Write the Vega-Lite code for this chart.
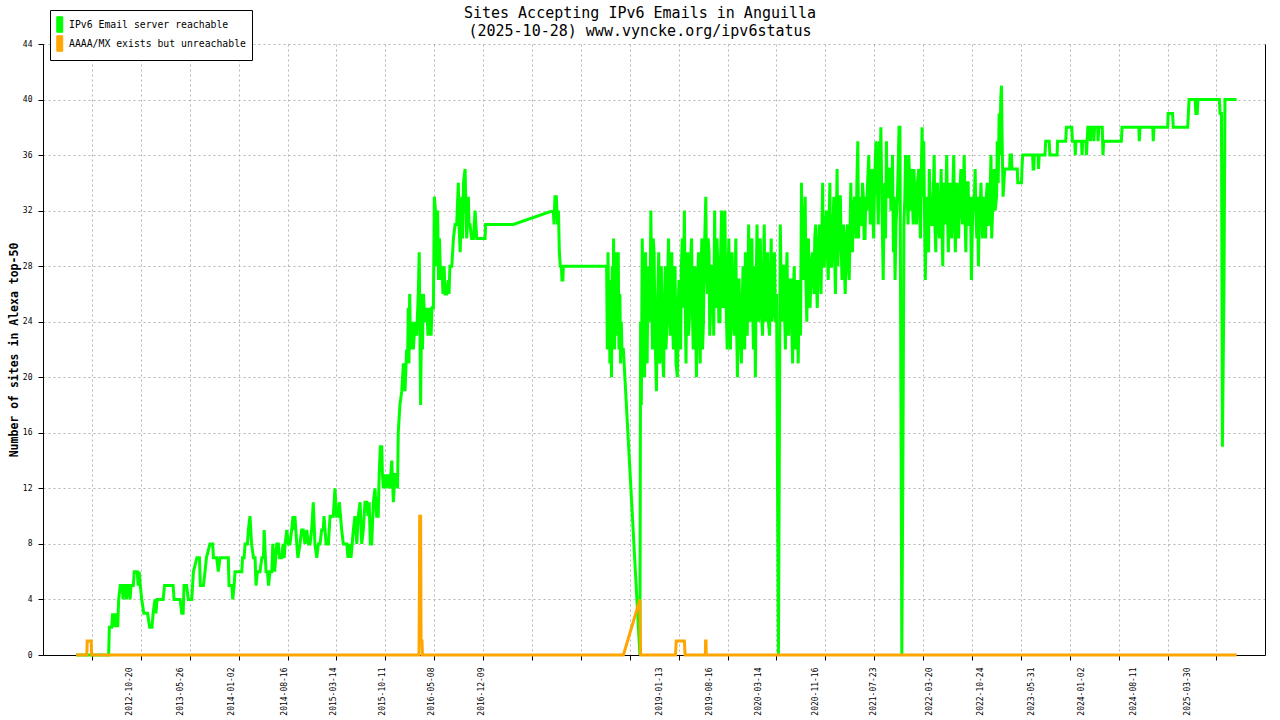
{
"$schema": "https://vega.github.io/schema/vega-lite/v6.json",
"width": 1222,
"height": 611,
"autosize": {"type": "none"},
"padding": {"left": 43, "top": 44, "right": 15, "bottom": 65},
"background": "white",
"config": {
  "font": "DejaVu Sans Mono",
  "view": {"stroke": null},
  "axis": {"labelFont": "DejaVu Sans Mono", "titleFont": "DejaVu Sans Mono", "labelColor": "black", "titleColor": "black", "domainColor": "black", "tickColor": "black", "domainWidth": 1, "tickWidth": 1},
  "legend": {"labelFont": "DejaVu Sans Mono"}
},
"title": {
  "text": ["Sites Accepting IPv6 Emails in Anguilla", "(2025-10-28) www.vyncke.org/ipv6status"],
  "font": "DejaVu Sans Mono", "fontSize": 15, "fontWeight": "normal", "lineHeight": 18,
  "color": "black", "anchor": "middle", "frame": "group", "dx": -14, "offset": -29
},
"datasets": {
"reachable": [
{"date":"2012-03-06","sites":0},{"date":"2012-07-23","sites":0},{"date":"2012-07-26","sites":2},{"date":"2012-08-05","sites":2},{"date":"2012-08-09","sites":3},{"date":"2012-08-13","sites":2},{"date":"2012-08-18","sites":3},{"date":"2012-08-22","sites":2},{"date":"2012-08-27","sites":3},{"date":"2012-08-31","sites":2},{"date":"2012-09-04","sites":4},{"date":"2012-09-11","sites":5},{"date":"2012-09-19","sites":5},{"date":"2012-09-23","sites":4},{"date":"2012-09-27","sites":5},{"date":"2012-10-04","sites":5},{"date":"2012-10-08","sites":4},{"date":"2012-10-11","sites":5},{"date":"2012-10-19","sites":5},{"date":"2012-10-23","sites":4},{"date":"2012-10-27","sites":5},{"date":"2012-11-06","sites":5},{"date":"2012-11-10","sites":6},{"date":"2012-11-23","sites":6},{"date":"2012-11-27","sites":5},{"date":"2012-12-01","sites":6},{"date":"2012-12-06","sites":5},{"date":"2012-12-12","sites":4},{"date":"2012-12-21","sites":3},
{"date":"2013-01-06","sites":3},{"date":"2013-01-15","sites":2},{"date":"2013-01-25","sites":2},{"date":"2013-01-30","sites":3},{"date":"2013-02-07","sites":4},{"date":"2013-02-11","sites":3},{"date":"2013-02-16","sites":4},{"date":"2013-03-14","sites":4},{"date":"2013-03-20","sites":5},{"date":"2013-04-26","sites":5},{"date":"2013-04-30","sites":4},{"date":"2013-05-26","sites":4},{"date":"2013-06-02","sites":3},{"date":"2013-06-08","sites":3},{"date":"2013-06-12","sites":5},{"date":"2013-06-23","sites":5},{"date":"2013-06-30","sites":4},{"date":"2013-07-15","sites":4},{"date":"2013-07-22","sites":6},{"date":"2013-08-06","sites":7},{"date":"2013-08-17","sites":7},{"date":"2013-08-21","sites":5},{"date":"2013-09-03","sites":5},{"date":"2013-09-10","sites":6},{"date":"2013-09-16","sites":7},{"date":"2013-10-01","sites":8},{"date":"2013-10-13","sites":8},{"date":"2013-10-16","sites":7},{"date":"2013-10-30","sites":7},{"date":"2013-11-06","sites":6},{"date":"2013-11-13","sites":7},{"date":"2013-12-19","sites":7},{"date":"2013-12-22","sites":5},
{"date":"2014-01-03","sites":5},{"date":"2014-01-07","sites":4},{"date":"2014-01-13","sites":5},{"date":"2014-01-17","sites":6},{"date":"2014-02-15","sites":6},{"date":"2014-02-18","sites":7},{"date":"2014-02-25","sites":7},{"date":"2014-03-01","sites":8},{"date":"2014-03-11","sites":8},{"date":"2014-03-15","sites":9},{"date":"2014-03-22","sites":10},{"date":"2014-03-29","sites":8},{"date":"2014-04-06","sites":7},{"date":"2014-04-13","sites":7},{"date":"2014-04-17","sites":5},{"date":"2014-04-23","sites":6},{"date":"2014-05-04","sites":6},{"date":"2014-05-12","sites":7},{"date":"2014-05-19","sites":7},{"date":"2014-05-22","sites":9},{"date":"2014-05-30","sites":6},{"date":"2014-06-05","sites":6},{"date":"2014-06-10","sites":5},{"date":"2014-06-16","sites":6},{"date":"2014-06-24","sites":6},{"date":"2014-06-28","sites":8},{"date":"2014-07-06","sites":6},{"date":"2014-07-15","sites":8},{"date":"2014-07-22","sites":8},{"date":"2014-07-27","sites":7},{"date":"2014-08-06","sites":7},{"date":"2014-08-11","sites":8},{"date":"2014-08-16","sites":7},{"date":"2014-08-20","sites":8},{"date":"2014-08-27","sites":9},{"date":"2014-09-03","sites":8},{"date":"2014-09-10","sites":8},{"date":"2014-09-17","sites":9},{"date":"2014-09-23","sites":10},{"date":"2014-09-27","sites":9},{"date":"2014-10-01","sites":10},{"date":"2014-10-09","sites":8},{"date":"2014-10-14","sites":7},{"date":"2014-10-23","sites":8},{"date":"2014-10-30","sites":9},{"date":"2014-11-06","sites":9},{"date":"2014-11-13","sites":8},{"date":"2014-11-21","sites":9},{"date":"2014-11-28","sites":8},{"date":"2014-12-05","sites":8},{"date":"2014-12-12","sites":9},{"date":"2014-12-19","sites":11},{"date":"2014-12-26","sites":8},
{"date":"2015-01-03","sites":7},{"date":"2015-01-10","sites":8},{"date":"2015-01-17","sites":8},{"date":"2015-01-24","sites":9},{"date":"2015-01-31","sites":9},{"date":"2015-02-03","sites":10},{"date":"2015-02-12","sites":8},{"date":"2015-02-22","sites":8},{"date":"2015-03-01","sites":10},{"date":"2015-03-15","sites":10},{"date":"2015-03-22","sites":12},{"date":"2015-03-29","sites":10},{"date":"2015-04-06","sites":10},{"date":"2015-04-10","sites":11},{"date":"2015-04-20","sites":9},{"date":"2015-04-27","sites":8},{"date":"2015-05-12","sites":8},{"date":"2015-05-17","sites":7},{"date":"2015-05-24","sites":8},{"date":"2015-05-30","sites":7},{"date":"2015-06-09","sites":9},{"date":"2015-06-16","sites":10},{"date":"2015-06-24","sites":8},{"date":"2015-06-30","sites":10},{"date":"2015-07-08","sites":11},{"date":"2015-07-15","sites":8},{"date":"2015-07-22","sites":9},{"date":"2015-07-29","sites":11},{"date":"2015-08-06","sites":11},{"date":"2015-08-11","sites":10},{"date":"2015-08-16","sites":11},{"date":"2015-08-21","sites":8},{"date":"2015-08-27","sites":8},{"date":"2015-09-03","sites":11},{"date":"2015-09-10","sites":12},{"date":"2015-09-17","sites":10},{"date":"2015-09-24","sites":10},{"date":"2015-09-28","sites":13},{"date":"2015-10-03","sites":15},{"date":"2015-10-09","sites":15},{"date":"2015-10-12","sites":13},{"date":"2015-10-16","sites":12},{"date":"2015-10-23","sites":13},{"date":"2015-10-29","sites":12},{"date":"2015-11-05","sites":13},{"date":"2015-11-13","sites":12},{"date":"2015-11-21","sites":14},{"date":"2015-11-28","sites":11},{"date":"2015-12-05","sites":13},{"date":"2015-12-12","sites":13},{"date":"2015-12-16","sites":12},{"date":"2015-12-19","sites":16},{"date":"2015-12-26","sites":18},
{"date":"2016-01-03","sites":19},{"date":"2016-01-10","sites":21},{"date":"2016-01-17","sites":19},{"date":"2016-01-24","sites":22},{"date":"2016-01-28","sites":21},{"date":"2016-01-31","sites":25},{"date":"2016-02-03","sites":21},{"date":"2016-02-06","sites":26},{"date":"2016-02-10","sites":22},{"date":"2016-02-15","sites":24},{"date":"2016-02-22","sites":22},{"date":"2016-02-29","sites":24},{"date":"2016-03-07","sites":23},{"date":"2016-03-14","sites":26},{"date":"2016-03-18","sites":29},{"date":"2016-03-24","sites":18},{"date":"2016-03-29","sites":26},{"date":"2016-04-01","sites":22},{"date":"2016-04-05","sites":26},{"date":"2016-04-12","sites":24},{"date":"2016-04-19","sites":25},{"date":"2016-04-25","sites":23},{"date":"2016-05-01","sites":25},{"date":"2016-05-08","sites":23},{"date":"2016-05-12","sites":25},{"date":"2016-05-18","sites":25},{"date":"2016-05-22","sites":33},{"date":"2016-05-27","sites":32},{"date":"2016-06-01","sites":28},{"date":"2016-06-05","sites":32},{"date":"2016-06-09","sites":27},{"date":"2016-06-13","sites":30},{"date":"2016-06-18","sites":27},{"date":"2016-06-24","sites":28},{"date":"2016-06-28","sites":26},{"date":"2016-07-03","sites":28},{"date":"2016-07-07","sites":26},{"date":"2016-07-14","sites":26},{"date":"2016-07-21","sites":27},{"date":"2016-07-24","sites":26},{"date":"2016-07-28","sites":28},{"date":"2016-08-05","sites":28},{"date":"2016-08-12","sites":30},{"date":"2016-08-19","sites":31},{"date":"2016-08-26","sites":31},{"date":"2016-09-02","sites":34},{"date":"2016-09-05","sites":31},{"date":"2016-09-10","sites":29},{"date":"2016-09-14","sites":32},{"date":"2016-09-17","sites":33},{"date":"2016-09-20","sites":30},{"date":"2016-09-24","sites":34},{"date":"2016-10-01","sites":35},{"date":"2016-10-05","sites":32},{"date":"2016-10-08","sites":30},{"date":"2016-10-15","sites":33},{"date":"2016-10-18","sites":31},{"date":"2016-10-22","sites":31},{"date":"2016-10-29","sites":30},{"date":"2016-11-06","sites":30},{"date":"2016-11-13","sites":32},{"date":"2016-11-20","sites":30},{"date":"2016-12-26","sites":30},{"date":"2016-12-28","sites":31},
{"date":"2017-04-26","sites":31},{"date":"2017-10-15","sites":32},{"date":"2017-10-18","sites":31},{"date":"2017-10-22","sites":33},{"date":"2017-10-28","sites":33},{"date":"2017-11-02","sites":31},{"date":"2017-11-06","sites":32},{"date":"2017-11-10","sites":29},{"date":"2017-11-14","sites":28},{"date":"2017-11-19","sites":28},{"date":"2017-11-21","sites":27},{"date":"2017-11-25","sites":27},{"date":"2017-11-27","sites":28},
{"date":"2018-06-01","sites":28},{"date":"2018-06-04","sites":22},{"date":"2018-06-07","sites":29},{"date":"2018-06-10","sites":24},{"date":"2018-06-12","sites":27},{"date":"2018-06-15","sites":21},{"date":"2018-06-18","sites":26},{"date":"2018-06-22","sites":20},{"date":"2018-06-25","sites":28},{"date":"2018-06-28","sites":23},{"date":"2018-07-01","sites":30},{"date":"2018-07-05","sites":22},{"date":"2018-07-08","sites":29},{"date":"2018-07-11","sites":23},{"date":"2018-07-15","sites":28},{"date":"2018-07-18","sites":24},{"date":"2018-07-21","sites":29},{"date":"2018-07-24","sites":22},{"date":"2018-07-28","sites":26},{"date":"2018-07-31","sites":21},{"date":"2018-08-03","sites":24},{"date":"2018-08-06","sites":22},{"date":"2018-08-12","sites":22},{"date":"2018-10-22","sites":0},{"date":"2018-10-25","sites":24},{"date":"2018-10-28","sites":18},
{"date":"2018-11-01","sites":30},{"date":"2018-11-08","sites":23},{"date":"2018-11-15","sites":29},{"date":"2018-11-22","sites":21},{"date":"2018-12-01","sites":27},{"date":"2018-12-08","sites":32},{"date":"2018-12-15","sites":22},{"date":"2018-12-22","sites":29},
{"date":"2019-01-01","sites":19},{"date":"2019-01-08","sites":27},{"date":"2019-01-15","sites":21},{"date":"2019-01-22","sites":28},{"date":"2019-02-01","sites":20},{"date":"2019-02-08","sites":28},{"date":"2019-02-15","sites":24},{"date":"2019-02-22","sites":30},{"date":"2019-03-01","sites":23},{"date":"2019-03-08","sites":29},{"date":"2019-03-15","sites":22},{"date":"2019-03-22","sites":28},{"date":"2019-04-01","sites":20},{"date":"2019-04-08","sites":27},{"date":"2019-04-15","sites":22},{"date":"2019-04-22","sites":30},{"date":"2019-05-01","sites":32},{"date":"2019-05-08","sites":21},{"date":"2019-05-15","sites":29},{"date":"2019-05-22","sites":24},{"date":"2019-06-01","sites":30},{"date":"2019-06-08","sites":22},{"date":"2019-06-15","sites":28},{"date":"2019-06-22","sites":20},{"date":"2019-07-01","sites":29},{"date":"2019-07-08","sites":21},{"date":"2019-07-15","sites":30},{"date":"2019-07-22","sites":24},{"date":"2019-08-01","sites":33},{"date":"2019-08-08","sites":26},{"date":"2019-08-15","sites":29},{"date":"2019-08-22","sites":25},{"date":"2019-09-01","sites":28},{"date":"2019-09-08","sites":32},{"date":"2019-09-15","sites":25},{"date":"2019-09-22","sites":28},{"date":"2019-10-01","sites":24},{"date":"2019-10-08","sites":32},{"date":"2019-10-15","sites":25},{"date":"2019-10-22","sites":32},{"date":"2019-11-01","sites":22},{"date":"2019-11-08","sites":30},{"date":"2019-11-15","sites":22},{"date":"2019-11-22","sites":29},{"date":"2019-12-01","sites":23},{"date":"2019-12-08","sites":30},{"date":"2019-12-15","sites":20},{"date":"2019-12-22","sites":27},
{"date":"2020-01-01","sites":21},{"date":"2020-01-08","sites":28},{"date":"2020-01-15","sites":22},{"date":"2020-01-22","sites":27},{"date":"2020-02-01","sites":31},{"date":"2020-02-08","sites":24},{"date":"2020-02-15","sites":30},{"date":"2020-02-22","sites":22},{"date":"2020-03-01","sites":20},{"date":"2020-03-08","sites":31},{"date":"2020-03-15","sites":24},{"date":"2020-03-22","sites":30},{"date":"2020-04-01","sites":23},{"date":"2020-04-08","sites":31},{"date":"2020-04-15","sites":24},{"date":"2020-04-22","sites":29},{"date":"2020-05-01","sites":23},{"date":"2020-05-08","sites":30},{"date":"2020-05-15","sites":25},{"date":"2020-05-22","sites":29},{"date":"2020-05-31","sites":26},{"date":"2020-06-08","sites":0},{"date":"2020-06-16","sites":31},{"date":"2020-06-22","sites":24},{"date":"2020-07-01","sites":28},{"date":"2020-07-08","sites":22},{"date":"2020-07-15","sites":29},{"date":"2020-07-22","sites":23},{"date":"2020-08-01","sites":27},{"date":"2020-08-08","sites":21},{"date":"2020-08-15","sites":28},{"date":"2020-08-22","sites":24},{"date":"2020-09-01","sites":21},{"date":"2020-09-08","sites":27},{"date":"2020-09-15","sites":34},{"date":"2020-09-22","sites":27},{"date":"2020-10-01","sites":33},{"date":"2020-10-08","sites":24},{"date":"2020-10-15","sites":30},{"date":"2020-10-22","sites":25},{"date":"2020-11-01","sites":29},{"date":"2020-11-08","sites":26},{"date":"2020-11-15","sites":31},{"date":"2020-11-22","sites":25},{"date":"2020-12-01","sites":31},{"date":"2020-12-08","sites":26},{"date":"2020-12-15","sites":34},{"date":"2020-12-22","sites":28},
{"date":"2021-01-01","sites":32},{"date":"2021-01-08","sites":27},{"date":"2021-01-15","sites":34},{"date":"2021-01-22","sites":28},{"date":"2021-02-01","sites":33},{"date":"2021-02-08","sites":26},{"date":"2021-02-15","sites":35},{"date":"2021-02-22","sites":30},{"date":"2021-03-01","sites":33},{"date":"2021-03-08","sites":27},{"date":"2021-03-15","sites":31},{"date":"2021-03-22","sites":26},{"date":"2021-04-01","sites":31},{"date":"2021-04-08","sites":27},{"date":"2021-04-15","sites":34},{"date":"2021-04-22","sites":29},{"date":"2021-05-01","sites":33},{"date":"2021-05-08","sites":30},{"date":"2021-05-15","sites":37},{"date":"2021-05-22","sites":33},{"date":"2021-06-01","sites":31},{"date":"2021-06-08","sites":33},{"date":"2021-06-15","sites":30},{"date":"2021-06-22","sites":32},{"date":"2021-07-01","sites":36},{"date":"2021-07-08","sites":31},{"date":"2021-07-15","sites":35},{"date":"2021-07-22","sites":30},{"date":"2021-08-01","sites":37},{"date":"2021-08-08","sites":33},{"date":"2021-08-15","sites":37},{"date":"2021-08-22","sites":38},{"date":"2021-09-01","sites":27},{"date":"2021-09-08","sites":34},{"date":"2021-09-15","sites":37},{"date":"2021-09-22","sites":33},{"date":"2021-10-01","sites":35},{"date":"2021-10-08","sites":33},{"date":"2021-10-15","sites":29},{"date":"2021-10-22","sites":27},{"date":"2021-11-01","sites":33},{"date":"2021-11-08","sites":38},{"date":"2021-11-12","sites":38},{"date":"2021-11-20","sites":0},{"date":"2021-11-25","sites":15},{"date":"2021-11-29","sites":31},{"date":"2021-12-06","sites":36},{"date":"2021-12-13","sites":33},{"date":"2021-12-20","sites":36},{"date":"2021-12-27","sites":32},
{"date":"2022-01-01","sites":35},{"date":"2022-01-08","sites":31},{"date":"2022-01-15","sites":33},{"date":"2022-01-22","sites":31},{"date":"2022-02-01","sites":35},{"date":"2022-02-08","sites":30},{"date":"2022-02-15","sites":38},{"date":"2022-02-22","sites":37},{"date":"2022-03-01","sites":27},{"date":"2022-03-08","sites":33},{"date":"2022-03-15","sites":29},{"date":"2022-03-22","sites":33},{"date":"2022-04-01","sites":31},{"date":"2022-04-08","sites":36},{"date":"2022-04-15","sites":29},{"date":"2022-04-22","sites":34},{"date":"2022-05-01","sites":30},{"date":"2022-05-08","sites":35},{"date":"2022-05-15","sites":28},{"date":"2022-05-22","sites":33},{"date":"2022-06-01","sites":36},{"date":"2022-06-08","sites":29},{"date":"2022-06-15","sites":34},{"date":"2022-06-22","sites":30},{"date":"2022-07-01","sites":36},{"date":"2022-07-08","sites":29},{"date":"2022-07-15","sites":34},{"date":"2022-07-22","sites":30},{"date":"2022-08-01","sites":35},{"date":"2022-08-08","sites":31},{"date":"2022-08-15","sites":36},{"date":"2022-08-22","sites":29},{"date":"2022-09-01","sites":34},{"date":"2022-09-08","sites":31},{"date":"2022-09-15","sites":27},{"date":"2022-09-22","sites":33},{"date":"2022-10-01","sites":35},{"date":"2022-10-08","sites":30},{"date":"2022-10-15","sites":28},{"date":"2022-10-22","sites":32},{"date":"2022-11-01","sites":30},{"date":"2022-11-08","sites":32},{"date":"2022-11-15","sites":30},{"date":"2022-11-22","sites":34},{"date":"2022-12-01","sites":31},{"date":"2022-12-08","sites":36},{"date":"2022-12-15","sites":32},{"date":"2022-12-22","sites":35},
{"date":"2023-01-01","sites":33},{"date":"2023-01-04","sites":37},{"date":"2023-01-08","sites":34},{"date":"2023-01-12","sites":39},{"date":"2023-01-15","sites":36},{"date":"2023-01-19","sites":40},{"date":"2023-01-22","sites":41},{"date":"2023-01-25","sites":37},{"date":"2023-01-29","sites":33},{"date":"2023-02-05","sites":35},{"date":"2023-02-26","sites":35},{"date":"2023-02-28","sites":36},{"date":"2023-03-06","sites":36},{"date":"2023-03-08","sites":35},{"date":"2023-03-31","sites":35},{"date":"2023-04-02","sites":34},{"date":"2023-04-18","sites":34},{"date":"2023-04-20","sites":35},{"date":"2023-04-23","sites":36},{"date":"2023-06-05","sites":36},{"date":"2023-06-07","sites":35},{"date":"2023-06-10","sites":35},{"date":"2023-06-12","sites":36},{"date":"2023-06-28","sites":36},{"date":"2023-06-30","sites":35},{"date":"2023-07-03","sites":36},{"date":"2023-07-28","sites":36},{"date":"2023-07-31","sites":37},{"date":"2023-08-15","sites":37},{"date":"2023-08-18","sites":36},{"date":"2023-09-18","sites":36},{"date":"2023-09-20","sites":37},{"date":"2023-10-25","sites":37},{"date":"2023-10-28","sites":38},{"date":"2023-11-20","sites":38},{"date":"2023-11-23","sites":37},{"date":"2023-12-03","sites":37},{"date":"2023-12-05","sites":36},{"date":"2023-12-08","sites":37},
{"date":"2024-01-01","sites":37},{"date":"2024-01-03","sites":36},{"date":"2024-01-06","sites":37},{"date":"2024-01-20","sites":37},{"date":"2024-01-22","sites":36},{"date":"2024-01-25","sites":37},{"date":"2024-01-28","sites":38},{"date":"2024-02-05","sites":38},{"date":"2024-02-08","sites":37},{"date":"2024-02-11","sites":38},{"date":"2024-02-20","sites":38},{"date":"2024-02-23","sites":37},{"date":"2024-02-26","sites":38},{"date":"2024-03-10","sites":38},{"date":"2024-03-12","sites":37},{"date":"2024-03-15","sites":38},{"date":"2024-03-30","sites":38},{"date":"2024-04-02","sites":36},{"date":"2024-04-05","sites":37},{"date":"2024-06-20","sites":37},{"date":"2024-06-23","sites":38},{"date":"2024-09-03","sites":38},{"date":"2024-09-05","sites":37},{"date":"2024-09-08","sites":38},{"date":"2024-11-02","sites":38},{"date":"2024-11-04","sites":37},{"date":"2024-11-07","sites":38},
{"date":"2025-01-05","sites":38},{"date":"2025-01-07","sites":39},{"date":"2025-01-26","sites":39},{"date":"2025-01-29","sites":38},{"date":"2025-04-01","sites":38},{"date":"2025-04-04","sites":39},{"date":"2025-04-07","sites":40},{"date":"2025-05-03","sites":40},{"date":"2025-05-06","sites":39},{"date":"2025-05-12","sites":39},{"date":"2025-05-15","sites":40},{"date":"2025-08-15","sites":40},{"date":"2025-08-18","sites":39},{"date":"2025-08-24","sites":39},{"date":"2025-08-28","sites":15},{"date":"2025-09-04","sites":27},{"date":"2025-09-08","sites":40},{"date":"2025-10-28","sites":40},
{"date":"2018-11-04","sites":26},{"date":"2018-11-11","sites":20},{"date":"2018-11-18","sites":25},{"date":"2018-11-26","sites":28},
{"date":"2018-12-04","sites":24},{"date":"2018-12-11","sites":27},{"date":"2018-12-18","sites":30},{"date":"2018-12-26","sites":23},
{"date":"2019-01-04","sites":24},{"date":"2019-01-11","sites":29},{"date":"2019-01-18","sites":25},{"date":"2019-01-26","sites":22},
{"date":"2019-02-04","sites":25},{"date":"2019-02-11","sites":22},{"date":"2019-02-18","sites":27},{"date":"2019-02-26","sites":25},
{"date":"2019-03-04","sites":26},{"date":"2019-03-11","sites":24},{"date":"2019-03-18","sites":27},{"date":"2019-03-26","sites":21},
{"date":"2019-04-04","sites":25},{"date":"2019-04-11","sites":23},{"date":"2019-04-18","sites":28},{"date":"2019-04-26","sites":25},
{"date":"2019-05-04","sites":26},{"date":"2019-05-11","sites":27},{"date":"2019-05-18","sites":23},{"date":"2019-05-26","sites":28},
{"date":"2019-06-04","sites":25},{"date":"2019-06-11","sites":27},{"date":"2019-06-18","sites":24},{"date":"2019-06-26","sites":27},
{"date":"2019-07-04","sites":24},{"date":"2019-07-11","sites":27},{"date":"2019-07-18","sites":22},{"date":"2019-07-26","sites":29},
{"date":"2019-08-04","sites":28},{"date":"2019-08-11","sites":30},{"date":"2019-08-18","sites":23},{"date":"2019-08-26","sites":28},
{"date":"2019-09-04","sites":23},{"date":"2019-09-11","sites":27},{"date":"2019-09-18","sites":30},{"date":"2019-09-26","sites":24},
{"date":"2019-10-04","sites":29},{"date":"2019-10-11","sites":27},{"date":"2019-10-18","sites":30},{"date":"2019-10-26","sites":26},
{"date":"2019-11-04","sites":27},{"date":"2019-11-11","sites":25},{"date":"2019-11-18","sites":28},{"date":"2019-11-26","sites":24},
{"date":"2019-12-04","sites":26},{"date":"2019-12-11","sites":24},{"date":"2019-12-18","sites":27},{"date":"2019-12-26","sites":23},
{"date":"2020-01-04","sites":25},{"date":"2020-01-11","sites":24},{"date":"2020-01-18","sites":29},{"date":"2020-01-26","sites":23},
{"date":"2020-02-04","sites":26},{"date":"2020-02-11","sites":28},{"date":"2020-02-18","sites":25},{"date":"2020-02-26","sites":28},
{"date":"2020-03-04","sites":26},{"date":"2020-03-11","sites":27},{"date":"2020-03-18","sites":29},{"date":"2020-03-26","sites":25},
{"date":"2020-04-04","sites":27},{"date":"2020-04-11","sites":26},{"date":"2020-04-18","sites":28},{"date":"2020-04-26","sites":24},
{"date":"2020-05-04","sites":27},{"date":"2020-05-11","sites":24},{"date":"2020-05-18","sites":27},{"date":"2020-05-26","sites":24},
{"date":"2020-06-26","sites":28},
{"date":"2020-07-04","sites":25},{"date":"2020-07-11","sites":27},{"date":"2020-07-18","sites":24},{"date":"2020-07-26","sites":27},
{"date":"2020-08-04","sites":24},{"date":"2020-08-11","sites":26},{"date":"2020-08-18","sites":22},{"date":"2020-08-26","sites":27},
{"date":"2020-09-04","sites":25},{"date":"2020-09-11","sites":23},{"date":"2020-09-18","sites":29},{"date":"2020-09-26","sites":31},
{"date":"2020-10-04","sites":27},{"date":"2020-10-11","sites":29},{"date":"2020-10-18","sites":26},{"date":"2020-10-26","sites":28},
{"date":"2020-11-04","sites":27},{"date":"2020-11-11","sites":30},{"date":"2020-11-18","sites":27},{"date":"2020-11-26","sites":29},
{"date":"2020-12-04","sites":28},{"date":"2020-12-11","sites":30},{"date":"2020-12-18","sites":28},{"date":"2020-12-26","sites":31},
{"date":"2021-01-04","sites":29},{"date":"2021-01-11","sites":31},{"date":"2021-01-18","sites":28},{"date":"2021-01-26","sites":30},
{"date":"2021-02-04","sites":29},{"date":"2021-02-11","sites":30},{"date":"2021-02-18","sites":28},{"date":"2021-02-26","sites":33},
{"date":"2021-03-04","sites":30},{"date":"2021-03-11","sites":29},{"date":"2021-03-18","sites":28},{"date":"2021-03-26","sites":30},
{"date":"2021-04-04","sites":28},{"date":"2021-04-11","sites":30},{"date":"2021-04-18","sites":31},{"date":"2021-04-26","sites":32},
{"date":"2021-05-04","sites":31},{"date":"2021-05-11","sites":34},{"date":"2021-05-18","sites":30},{"date":"2021-05-26","sites":31},
{"date":"2021-06-04","sites":34},{"date":"2021-06-11","sites":30},{"date":"2021-06-18","sites":33},{"date":"2021-06-26","sites":34},
{"date":"2021-07-04","sites":33},{"date":"2021-07-11","sites":34},{"date":"2021-07-18","sites":32},{"date":"2021-07-26","sites":34},
{"date":"2021-08-04","sites":34},{"date":"2021-08-11","sites":31},{"date":"2021-08-18","sites":34},{"date":"2021-08-26","sites":33},
{"date":"2021-09-04","sites":31},{"date":"2021-09-11","sites":30},{"date":"2021-09-18","sites":33},{"date":"2021-09-26","sites":35},
{"date":"2021-10-04","sites":32},{"date":"2021-10-11","sites":36},{"date":"2021-10-18","sites":33},{"date":"2021-10-26","sites":31},
{"date":"2021-11-04","sites":35},
{"date":"2021-12-03","sites":33},{"date":"2021-12-10","sites":34},{"date":"2021-12-17","sites":31},{"date":"2021-12-24","sites":34},
{"date":"2022-01-04","sites":33},{"date":"2022-01-11","sites":35},{"date":"2022-01-18","sites":32},{"date":"2022-01-26","sites":34},
{"date":"2022-02-04","sites":32},{"date":"2022-02-11","sites":34},{"date":"2022-02-18","sites":33},{"date":"2022-02-26","sites":31},
{"date":"2022-03-04","sites":31},{"date":"2022-03-11","sites":30},{"date":"2022-03-18","sites":35},{"date":"2022-03-26","sites":31},
{"date":"2022-04-04","sites":33},{"date":"2022-04-11","sites":31},{"date":"2022-04-18","sites":33},{"date":"2022-04-26","sites":31},
{"date":"2022-05-04","sites":32},{"date":"2022-05-11","sites":31},{"date":"2022-05-18","sites":34},{"date":"2022-05-26","sites":31},
{"date":"2022-06-04","sites":32},{"date":"2022-06-11","sites":33},{"date":"2022-06-18","sites":31},{"date":"2022-06-26","sites":33},
{"date":"2022-07-04","sites":32},{"date":"2022-07-11","sites":33},{"date":"2022-07-18","sites":31},{"date":"2022-07-26","sites":33},
{"date":"2022-08-04","sites":32},{"date":"2022-08-11","sites":33},{"date":"2022-08-18","sites":32},{"date":"2022-08-26","sites":34},
{"date":"2022-09-04","sites":31},{"date":"2022-09-11","sites":33},{"date":"2022-09-18","sites":30},{"date":"2022-09-26","sites":32},
{"date":"2022-10-04","sites":32},{"date":"2022-10-11","sites":33},{"date":"2022-10-18","sites":31},{"date":"2022-10-26","sites":34},
{"date":"2022-11-04","sites":33},{"date":"2022-11-11","sites":31},{"date":"2022-11-18","sites":33},{"date":"2022-11-26","sites":31},
{"date":"2022-12-04","sites":33},{"date":"2022-12-11","sites":30},{"date":"2022-12-18","sites":34},{"date":"2022-12-26","sites":32}
],
"unreachable": [
{"date":"2012-03-06","sites":0},{"date":"2012-04-20","sites":0},{"date":"2012-04-22","sites":1},{"date":"2012-05-09","sites":1},{"date":"2012-05-11","sites":0},{"date":"2016-03-17","sites":0},{"date":"2016-03-19","sites":5},{"date":"2016-03-20","sites":10},{"date":"2016-03-24","sites":10},{"date":"2016-03-26","sites":1},{"date":"2016-03-30","sites":1},{"date":"2016-04-01","sites":0},{"date":"2018-08-12","sites":0},{"date":"2018-10-22","sites":4},{"date":"2018-10-25","sites":0},{"date":"2019-03-24","sites":0},{"date":"2019-03-27","sites":1},{"date":"2019-05-01","sites":1},{"date":"2019-05-04","sites":0},{"date":"2019-07-30","sites":0},{"date":"2019-07-31","sites":1},{"date":"2019-08-02","sites":1},{"date":"2019-08-03","sites":0},{"date":"2025-10-28","sites":0}
]
},
"encoding": {
  "x": {
    "field": "date", "type": "temporal",
    "scale": {"type": "utc", "domain": [{"year": 2011, "month": 10, "date": 15, "utc": true}, {"year": 2026, "month": 2, "date": 27, "utc": true}]},
    "axis": {
      "title": null,
      "values": [
        {"year":2012,"month":5,"date":12,"hours":12,"utc":true},{"year":2012,"month":12,"date":8,"hours":12,"utc":true},{"year":2013,"month":7,"date":6,"hours":12,"utc":true},{"year":2014,"month":2,"date":1,"hours":12,"utc":true},{"year":2014,"month":8,"date":30,"hours":12,"utc":true},{"year":2015,"month":3,"date":28,"hours":12,"utc":true},{"year":2015,"month":10,"date":24,"hours":12,"utc":true},{"year":2016,"month":5,"date":21,"hours":12,"utc":true},{"year":2016,"month":12,"date":17,"hours":12,"utc":true},{"year":2017,"month":7,"date":15,"hours":12,"utc":true},{"year":2018,"month":2,"date":10,"hours":12,"utc":true},{"year":2018,"month":9,"date":8,"hours":12,"utc":true},{"year":2019,"month":4,"date":6,"hours":12,"utc":true},{"year":2019,"month":11,"date":2,"hours":12,"utc":true},{"year":2020,"month":5,"date":30,"hours":12,"utc":true},{"year":2020,"month":12,"date":26,"hours":12,"utc":true},{"year":2021,"month":7,"date":24,"hours":12,"utc":true},{"year":2022,"month":2,"date":19,"hours":12,"utc":true},{"year":2022,"month":9,"date":17,"hours":12,"utc":true},{"year":2023,"month":4,"date":15,"hours":12,"utc":true},{"year":2023,"month":11,"date":11,"hours":12,"utc":true},{"year":2024,"month":6,"date":8,"hours":12,"utc":true},{"year":2025,"month":1,"date":4,"hours":12,"utc":true},{"year":2025,"month":8,"date":2,"hours":12,"utc":true},
        {"year":2012,"month":10,"date":20,"utc":true},{"year":2013,"month":5,"date":26,"utc":true},{"year":2014,"month":1,"date":2,"utc":true},{"year":2014,"month":8,"date":16,"utc":true},{"year":2015,"month":3,"date":14,"utc":true},{"year":2015,"month":10,"date":11,"utc":true},{"year":2016,"month":5,"date":8,"utc":true},{"year":2016,"month":12,"date":9,"utc":true},{"year":2019,"month":1,"date":13,"utc":true},{"year":2019,"month":8,"date":16,"utc":true},{"year":2020,"month":3,"date":14,"utc":true},{"year":2020,"month":11,"date":16,"utc":true},{"year":2021,"month":7,"date":23,"utc":true},{"year":2022,"month":3,"date":20,"utc":true},{"year":2022,"month":10,"date":24,"utc":true},{"year":2023,"month":5,"date":31,"utc":true},{"year":2024,"month":1,"date":2,"utc":true},{"year":2024,"month":8,"date":11,"utc":true},{"year":2025,"month":3,"date":30,"utc":true}
      ],
      "labelExpr": "utchours(datum.value) == 12 ? '' : utcFormat(datum.value, '%Y-%m-%d')",
      "labelAngle": 270, "labelAlign": "right", "labelBaseline": "middle",
      "labelFontSize": 8, "labelPadding": 7, "labelOverlap": false, "labelFlush": false, "labelBound": false,
      "tickSize": 5,
      "tickOpacity": {"condition": {"test": "utchours(datum.value) == 12", "value": 1}, "value": 0},
      "grid": true, "gridColor": "#b4b4b4", "gridDash": [2, 3], "gridWidth": 1,
      "gridOpacity": {"condition": {"test": "utchours(datum.value) == 12", "value": 1}, "value": 0}
    }
  }
},
"layer": [
  {
    "data": {"name": "reachable"},
    "mark": {"type": "line", "strokeWidth": 3, "strokeJoin": "miter", "strokeCap": "butt"},
    "encoding": {
      "y": {
        "field": "sites", "type": "quantitative",
        "scale": {"domain": [0, 44], "nice": false},
        "axis": {
          "values": [0, 4, 8, 12, 16, 20, 24, 28, 32, 36, 40, 44],
          "title": "Number of sites in Alexa top-50", "titleFontSize": 11.5, "titleFontWeight": "bold", "titlePadding": 3,
          "labelFontSize": 8, "labelPadding": 6, "tickSize": 5,
          "grid": true, "gridColor": "#b4b4b4", "gridDash": [2, 3], "gridWidth": 1
        }
      },
      "color": {
        "datum": "IPv6 Email server reachable", "type": "nominal",
        "scale": {"domain": ["IPv6 Email server reachable", "AAAA/MX exists but unreachable"], "range": ["#00ff00", "#ffa500"]},
        "legend": {
          "orient": "none", "legendX": 7, "legendY": -34, "title": null, "direction": "vertical",
          "strokeColor": "black", "fillColor": "white", "padding": 6, "cornerRadius": 0,
          "symbolType": "M-1,-1H-0.226V1H-1Z", "symbolSize": 240,
          "labelFontSize": 9.8, "labelColor": "black", "labelOffset": -4, "labelLimit": 0, "rowPadding": -4.5,
          "encode": {"symbols": {"update": {"fill": {"scale": "color", "field": "value"}, "fillOpacity": {"value": 1}, "stroke": {"value": "black"}, "strokeWidth": {"value": 1}, "opacity": {"value": 1}}}}
        }
      }
    }
  },
  {
    "data": {"name": "unreachable"},
    "mark": {"type": "line", "strokeWidth": 3, "strokeJoin": "miter", "strokeCap": "butt"},
    "encoding": {
      "y": {
        "field": "sites", "type": "quantitative",
        "axis": {"orient": "right", "labels": false, "ticks": false, "grid": false, "domain": true, "title": null}
      },
      "color": {"datum": "AAAA/MX exists but unreachable", "type": "nominal"}
    }
  }
],
"resolve": {"axis": {"y": "independent"}}
}
